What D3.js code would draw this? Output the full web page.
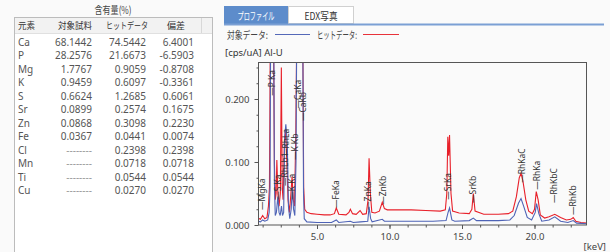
<!DOCTYPE html>
<html lang="ja">
<head>
<meta charset="utf-8"/>
<title>EDX profile</title>
<script src="https://d3js.org/d3.v7.min.js"></script>
<style>
    body { margin: 0; background: #fafafa; }
    svg { display: block; font-family: "Noto Sans", "Noto Sans CJK JP", sans-serif; }
</style>
</head>
<body>
<svg id="chart" width="610" height="252"></svg>
<script>
    // table values (含有量 %)
    const elements = ["Ca", "P", "Mg", "K", "S", "Sr", "Zn", "Fe", "Cl", "Mn", "Ti", "Cu"];
    const sampleVals = ["68.1442", "28.2576", "1.7767", "0.9459", "0.6624", "0.0899", "0.0868", "0.0367", "--------", "--------", "--------", "--------"];
    const hitVals = ["74.5442", "21.6673", "0.9059", "0.6097", "1.2685", "0.2574", "0.3098", "0.0441", "0.2398", "0.0718", "0.0544", "0.0270"];
    const diffVals = ["6.4001", "-6.5903", "-0.8708", "-0.3361", "0.6061", "0.1675", "0.2230", "0.0074", "0.2398", "0.0718", "0.0544", "0.0270"];
    const headers = ["元素", "対象試料", "ヒットデータ", "偏差"];

    // spectra: [keV, cps/uA]
    const hitSpectrum = [
        [0.93, 0.011], [1.1, 0.009], [1.25, 0.015], [1.4, 0.01], [1.55, 0.012], [1.65, 0.03], [1.72, 0.06],
        [1.78, 0.3], [2.0, 0.3], [2.06, 0.1], [2.12, 0.04], [2.18, 0.05], [2.23, 0.103], [2.3, 0.05],
        [2.38, 0.03], [2.47, 0.05], [2.54, 0.25], [2.6, 0.06], [2.66, 0.04], [2.75, 0.13], [2.84, 0.15],
        [2.92, 0.1], [3.0, 0.04], [3.1, 0.02], [3.2, 0.05], [3.28, 0.077], [3.36, 0.04], [3.45, 0.03],
        [3.54, 0.15], [3.6, 0.3], [4.02, 0.3], [4.08, 0.06], [4.15, 0.025], [4.3, 0.02], [4.6, 0.018],
        [5.0, 0.017], [5.5, 0.016], [5.9, 0.016], [6.2, 0.018], [6.33, 0.027], [6.5, 0.017], [7.0, 0.016],
        [7.2, 0.02], [7.3, 0.025], [7.45, 0.018], [7.7, 0.017], [7.97, 0.023], [8.15, 0.017], [8.4, 0.018],
        [8.52, 0.04], [8.59, 0.106], [8.68, 0.05], [8.78, 0.02], [9.0, 0.019], [9.3, 0.022], [9.5, 0.036],
        [9.65, 0.026], [9.85, 0.024], [10.5, 0.024], [11.5, 0.024], [12.5, 0.023], [13.5, 0.022],
        [13.85, 0.024], [13.95, 0.05], [14.02, 0.14], [14.08, 0.11], [14.14, 0.143], [14.24, 0.05],
        [14.35, 0.022], [14.8, 0.019], [15.5, 0.018], [15.68, 0.025], [15.78, 0.05], [15.9, 0.022],
        [16.5, 0.017], [17.5, 0.017], [18.2, 0.018], [18.5, 0.022], [18.75, 0.045], [18.95, 0.075],
        [19.07, 0.082], [19.2, 0.07], [19.4, 0.04], [19.6, 0.022], [19.85, 0.018], [20.0, 0.025],
        [20.12, 0.053], [20.25, 0.04], [20.4, 0.016], [20.7, 0.011], [21.0, 0.013], [21.4, 0.017],
        [21.8, 0.012], [22.2, 0.008], [22.5, 0.009], [22.67, 0.012], [22.85, 0.006], [23.2, 0.004], [23.62, 0.003]
    ];
    const sampleSpectrum = [
        [0.93, 0.006], [1.1, 0.005], [1.25, 0.008], [1.4, 0.006], [1.6, 0.008], [1.7, 0.02], [1.76, 0.06],
        [1.8, 0.3], [2.02, 0.3], [2.06, 0.07], [2.12, 0.015], [2.2, 0.02], [2.3, 0.045], [2.38, 0.02],
        [2.46, 0.015], [2.55, 0.03], [2.62, 0.015], [2.7, 0.02], [2.77, 0.14], [2.85, 0.16], [2.95, 0.13],
        [3.03, 0.03], [3.12, 0.01], [3.22, 0.025], [3.3, 0.06], [3.38, 0.025], [3.47, 0.015], [3.55, 0.1],
        [3.6, 0.3], [4.02, 0.3], [4.07, 0.05], [4.12, 0.01], [4.3, 0.005], [5.0, 0.004], [6.0, 0.004],
        [6.33, 0.008], [6.5, 0.004], [7.3, 0.006], [7.5, 0.004], [8.0, 0.005], [8.5, 0.006], [8.59, 0.029],
        [8.7, 0.01], [8.8, 0.005], [9.5, 0.009], [9.65, 0.006], [11.0, 0.006], [13.0, 0.006], [13.9, 0.007],
        [14.04, 0.02], [14.14, 0.027], [14.3, 0.008], [14.5, 0.006], [15.5, 0.007], [15.78, 0.011],
        [16.0, 0.007], [17.5, 0.007], [18.3, 0.008], [18.6, 0.015], [18.9, 0.035], [19.07, 0.042],
        [19.25, 0.03], [19.5, 0.012], [19.8, 0.008], [20.05, 0.02], [20.14, 0.034], [20.3, 0.018],
        [20.5, 0.006], [21.0, 0.008], [21.4, 0.013], [21.8, 0.006], [22.3, 0.004], [22.67, 0.007],
        [22.9, 0.003], [23.62, 0.002]
    ];

    // peak labels: name, keV, cps where the label starts
    const peakNames = ["MgKa", "P Ka", "S Ka", "RhLb1", "RhLa", "K Ka", "K Kb", "CaKa", "CaKb", "FeKa",
        "ZnKa", "ZnKb", "SrKa", "SrKb", "RhKaC", "RhKa", "RhKbC", "RhKb"];
    const peakKeV = [1.19, 1.9, 2.29, 2.79, 2.83, 3.26, 3.48, 3.69, 4.01, 6.31,
        8.54, 9.53, 14.06, 15.78, 19.12, 20.15, 21.34, 22.68];
    const peakLevel = [0.024, 0.205, 0.04, 0.062, 0.108, 0.04, 0.103, 0.185, 0.165, 0.027,
        0.024, 0.032, 0.04, 0.035, 0.067, 0.056, 0.035, 0.016];

    const xTicks = [5, 10, 15, 20];
    const yTicks = [0, 0.1, 0.2];

    const svg = d3.select("#chart");
    const txt = "#444";
    const jp = "'Noto Sans CJK JP', sans-serif";

    // helper for japanese labels squeezed to the width seen in the picture
    function jpText(g, s, x, y, w, anchor, fill, size) {
        return g.append("text").attr("x", x).attr("y", y).attr("text-anchor", anchor || "start")
            .attr("font-family", jp).attr("font-size", size || 10.5).attr("fill", fill || txt)
            .attr("textLength", w).attr("lengthAdjust", "spacingAndGlyphs").text(s);
    }

    // ---- left panel: table ----
    const tbl = svg.append("g");
    tbl.append("rect").attr("x", 14.5).attr("y", 17.5).attr("width", 198).attr("height", 240)
        .attr("fill", "#fff").attr("stroke", "#bcbcbc");
    tbl.append("rect").attr("x", 15).attr("y", 18).attr("width", 197).attr("height", 15)
        .attr("fill", "#f2f2f2");
    tbl.append("line").attr("x1", 15).attr("x2", 212).attr("y1", 33.5).attr("y2", 33.5).attr("stroke", "#e0e0e0");
    tbl.append("line").attr("x1", 201.5).attr("x2", 201.5).attr("y1", 18).attr("y2", 33).attr("stroke", "#d8d8d8");
    jpText(tbl, "含有量(%)", 113, 14, 37, "middle");

    const headX = [18, 75, 127, 176];
    const headW = [17, 34, 42, 18];
    const headAnchor = ["start", "middle", "middle", "middle"];
    headers.forEach((h, i) => jpText(tbl, h, headX[i], 29, headW[i], headAnchor[i], "#333", 9));

    const rowY = d3.scaleLinear().domain([0, 1]).range([45.5, 59]);
    const cols = [
        {vals: elements, x: 18, anchor: "start"},
        {vals: sampleVals, x: 92, anchor: "end"},
        {vals: hitVals, x: 146, anchor: "end"},
        {vals: diffVals, x: 194, anchor: "end"}
    ];
    cols.forEach(c => {
        tbl.append("g").selectAll("text").data(c.vals).join("text")
            .attr("x", c.x).attr("y", (d, i) => rowY(i)).attr("text-anchor", c.anchor)
            .attr("font-size", 10)
            .attr("fill", d => d.startsWith("--") ? "#999" : "#555").text(d => d);
    });

    // ---- right panel: tabs + legend ----
    svg.append("rect").attr("x", 224).attr("y", 6).attr("width", 64).attr("height", 18).attr("fill", "#5d8ccb");
    jpText(svg, "プロファイル", 256, 19.5, 37, "middle", "#fff");
    svg.append("rect").attr("x", 288.5).attr("y", 6.5).attr("width", 65).attr("height", 17)
        .attr("fill", "#fff").attr("stroke", "#d0d0d0");
    jpText(svg, "EDX写真", 321, 19.5, 33, "middle", "#333");
    svg.append("line").attr("x1", 224).attr("x2", 604).attr("y1", 24.5).attr("y2", 24.5)
        .attr("stroke", "#7b9fd4").attr("stroke-width", 2);

    jpText(svg, "対象データ:", 227, 38.5, 41);
    svg.append("line").attr("x1", 275).attr("x2", 310).attr("y1", 34.5).attr("y2", 34.5)
        .attr("stroke", "#5468b8").attr("stroke-width", 1.2);
    jpText(svg, "ヒットデータ:", 317, 38.5, 40);
    svg.append("line").attr("x1", 363).attr("x2", 399).attr("y1", 34.5).attr("y2", 34.5)
        .attr("stroke", "#e8323a").attr("stroke-width", 1.2);

    svg.append("text").attr("x", 225).attr("y", 56).attr("font-size", 9.5).attr("fill", "#333").text("[cps/uA] Al-U");

    // ---- plot ----
    const x = d3.scaleLinear().domain([0.93, 23.62]).range([258, 587]);
    const y = d3.scaleLinear().domain([0, 0.2587]).range([225, 62]);

    svg.append("clipPath").attr("id", "clip").append("rect")
        .attr("x", 258).attr("y", 62).attr("width", 329).attr("height", 163);

    const line = d3.line().x(d => x(d[0])).y(d => y(d[1]));
    const plot = svg.append("g").attr("clip-path", "url(#clip)");
    plot.append("path").datum(hitSpectrum).attr("d", line).attr("fill", "none")
        .attr("stroke", "#e8202a").attr("stroke-width", 1.1);
    plot.append("path").datum(sampleSpectrum).attr("d", line).attr("fill", "none")
        .attr("stroke", "#4e63b6").attr("stroke-width", 1.1);

    // frame
    svg.append("rect").attr("x", 258.5).attr("y", 62.5).attr("width", 328).attr("height", 162.5)
        .attr("fill", "none").attr("stroke", "#555");

    // axes
    svg.append("g").attr("transform", "translate(258.5,0)")
        .call(d3.axisLeft(y).tickValues(yTicks).tickFormat(d3.format(".3f")).tickSize(4).tickPadding(5));
    svg.append("g").attr("transform", "translate(258.5,0)")
        .call(d3.axisLeft(y).tickValues(d3.range(0.025, 0.26, 0.025)).tickFormat("").tickSize(2));
    svg.append("g").attr("transform", "translate(0,225)")
        .call(d3.axisBottom(x).tickValues(xTicks).tickFormat(d3.format(".1f")).tickSize(4).tickPadding(4));
    svg.append("g").attr("transform", "translate(0,225)")
        .call(d3.axisBottom(x).tickValues(d3.range(1.25, 23.6, 1.25)).tickFormat("").tickSize(2.5));
    svg.selectAll(".domain").remove();
    svg.selectAll(".tick line").attr("stroke", "#555");
    svg.selectAll(".tick text").attr("fill", txt).attr("font-size", 9.5)
        .attr("font-family", "'Noto Sans', sans-serif");

    svg.append("text").attr("x", 606).attr("y", 250).attr("text-anchor", "end").attr("font-size", 9.5)
        .attr("fill", txt).text("[keV]");

    // peak labels
    svg.append("g").selectAll("text").data(peakNames).join("text")
        .attr("transform", (d, i) => `translate(${x(peakKeV[i])},${y(peakLevel[i])}) rotate(-90)`)
        .attr("dy", "0.35em").attr("font-size", 8.5).attr("fill", "#333")
        .text(d => "—" + d);
</script>
</body>
</html>
